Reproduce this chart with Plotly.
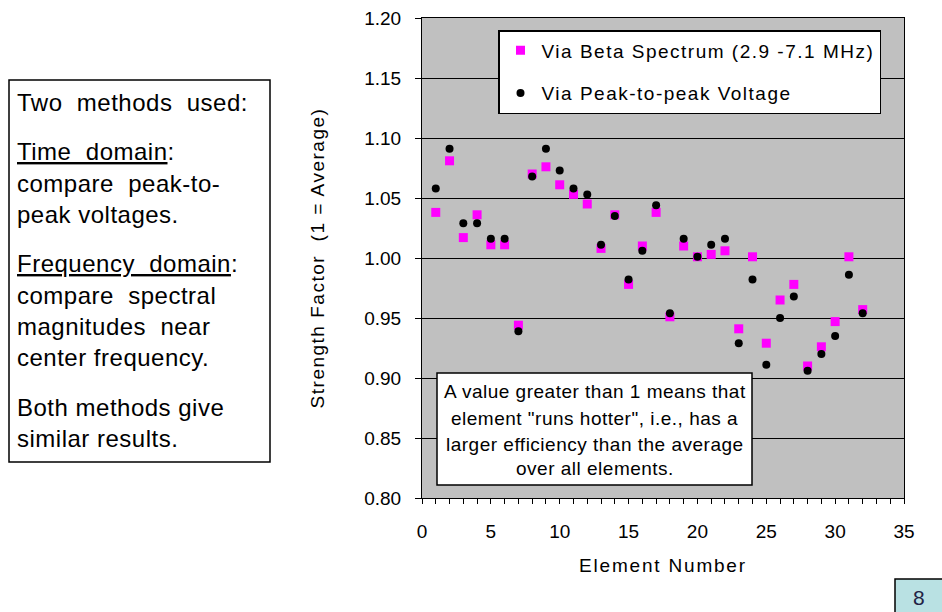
import plotly.graph_objects as go

# Element index and relative strength factor measured two ways
elements = list(range(1, 33))
beta_spectrum = [1.038, 1.081, 1.017, 1.036, 1.011, 1.011, 0.944, 1.070,
                 1.076, 1.061, 1.053, 1.045, 1.008, 1.036, 0.978, 1.010,
                 1.038, 0.951, 1.010, 1.001, 1.003, 1.006, 0.941, 1.001,
                 0.929, 0.965, 0.978, 0.910, 0.926, 0.947, 1.001, 0.957]
peak_to_peak = [1.058, 1.091, 1.029, 1.029, 1.016, 1.016, 0.939, 1.068,
                1.091, 1.073, 1.058, 1.053, 1.011, 1.035, 0.982, 1.006,
                1.044, 0.954, 1.016, 1.001, 1.011, 1.016, 0.929, 0.982,
                0.911, 0.950, 0.968, 0.906, 0.920, 0.935, 0.986, 0.954]

series_names = ["Via Beta Spectrum (2.9 -7.1 MHz)", "Via Peak-to-peak Voltage"]
x_title = "Element Number"
y_title = "Strength Factor  (1 = Average)"

side_lines = [
    "Two  methods  used:",
    "<u>Time  domain</u>:",
    "compare  peak-to-",
    "peak voltages.",
    "<u>Frequency  domain</u>:",
    "compare  spectral",
    "magnitudes  near",
    "center frequency.",
    "Both methods give",
    "similar results.",
]
note_lines = [
    "A value greater than 1 means that",
    "element \"runs hotter\", i.e., has a",
    "larger efficiency than the average",
    "over all elements.",
]
page_number = "8"

FONT = "Arial, Liberation Sans, sans-serif"
W, H = 942, 612
L, R, T, B = 422, 904, 18, 498  # plot area in page pixels


def px(x):
    return (x - L) / (R - L)


def py(y):
    return (B - y) / (B - T)


def spaced(text, ls):
    # widen the tracking a little, the way the slide text is set
    return f'<span style="letter-spacing:{ls}px">{text}</span>'


fig = go.Figure()
fig.add_trace(go.Scatter(
    x=elements, y=beta_spectrum, mode="markers",
    name=spaced(series_names[0], 1.5),
    legendgroup="a",
    marker=dict(symbol="square", size=9, color="#FF00FF", line=dict(width=0)),
))
fig.add_trace(go.Scatter(
    x=elements, y=peak_to_peak, mode="markers",
    name=spaced(series_names[1], 1.5),
    legendgroup="b",
    marker=dict(symbol="circle", size=8, color="black", line=dict(width=0)),
))

fig.update_layout(
    width=W, height=H,
    margin=dict(l=L, r=W - R, t=T, b=H - B, autoexpand=False),
    paper_bgcolor="white",
    plot_bgcolor="#C0C0C0",
    font=dict(family=FONT, color="black"),
    showlegend=True,
    legend=dict(
        x=px(498), y=py(30), xanchor="left", yanchor="top",
        bgcolor="white", bordercolor="black", borderwidth=1.5,
        font=dict(size=19, family=FONT, color="black"),
        tracegroupgap=15, traceorder="grouped",
        itemwidth=32,
    ),
    xaxis=dict(
        range=[0, 35], dtick=5, tick0=0, showgrid=False, zeroline=False,
        showline=True, linecolor="black", linewidth=1, mirror=True,
        ticks="outside", ticklen=5, tickcolor="black",
        minor=dict(dtick=1, ticks="outside", ticklen=5, tickcolor="black"),
        tickfont=dict(size=19), ticklabelstandoff=11,
        title=dict(text=spaced(x_title, 1.8), font=dict(size=19), standoff=17),
    ),
    yaxis=dict(
        range=[0.80, 1.20], dtick=0.05, tick0=0.80, tickformat=".2f",
        showgrid=True, gridcolor="black", gridwidth=1, zeroline=False,
        showline=True, linecolor="black", linewidth=1, mirror=True,
        ticks="outside", ticklen=6, tickcolor="black",
        tickfont=dict(size=19), ticklabelstandoff=10,
        title=dict(text=spaced(y_title, 1.5), font=dict(size=19), standoff=34),
    ),
)

shapes = []
annotations = []

# Explanatory side panel
shapes.append(dict(type="rect", xref="paper", yref="paper",
                   x0=px(9), x1=px(270), y0=py(462), y1=py(80),
                   line=dict(color="black", width=1.5), fillcolor="white",
                   layer="above"))
line_y = [102, 151, 183, 214, 263, 295, 326, 357, 407, 438]
for text, yy in zip(side_lines, line_y):
    annotations.append(dict(text=spaced(text, 0.5), xref="paper", yref="paper",
                            x=px(15), y=py(yy), xanchor="left", yanchor="middle",
                            showarrow=False,
                            font=dict(size=24, family=FONT, color="black")))

# Note box inside the plot
shapes.append(dict(type="rect", xref="paper", yref="paper",
                   x0=px(437), x1=px(752), y0=py(485), y1=py(373),
                   line=dict(color="black", width=1.5), fillcolor="white",
                   layer="above"))
note_y = [391, 418, 444, 468]
for text, yy in zip(note_lines, note_y):
    annotations.append(dict(text=spaced(text, 0.5), xref="paper", yref="paper",
                            x=px(594.5), y=py(yy), xanchor="center",
                            yanchor="middle", showarrow=False,
                            font=dict(size=19, family=FONT, color="black")))

# Slide number tag
shapes.append(dict(type="rect", xref="paper", yref="paper",
                   x0=px(895), x1=px(945), y0=py(615), y1=py(579),
                   line=dict(color="black", width=1.5), fillcolor="#B9E1E3",
                   layer="above"))
annotations.append(dict(text=page_number, xref="paper", yref="paper",
                        x=px(919), y=py(597), xanchor="center", yanchor="middle",
                        showarrow=False,
                        font=dict(size=21, family=FONT, color="#222244")))

fig.update_layout(shapes=shapes, annotations=annotations)
fig.write_html("out.html")
